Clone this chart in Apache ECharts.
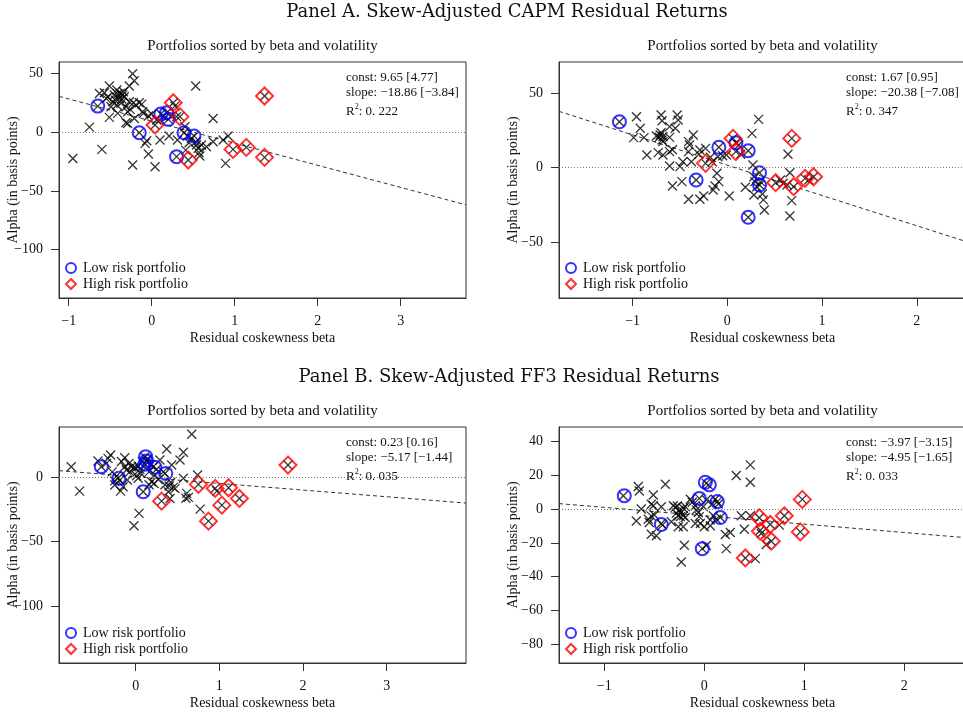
<!DOCTYPE html>
<html>
<head>
<meta charset="utf-8">
<script src="https://cdn.jsdelivr.net/npm/echarts@6/dist/echarts.min.js"></script>
<style>
  html, body { margin: 0; padding: 0; background: #fff; }
  #chart { width: 963px; height: 715px; }
</style>
</head>
<body>
<div id="chart"></div>
<script>
// ---- Panel A (CAPM), left: all portfolios [coskewness beta, alpha in bp]
const capmLeftPoints = [
  [-0.95,-22.2],[-0.75,4.5],[-0.60,-14.5],[-0.65,22.4],[-0.63,33.2],[-0.57,33.8],[-0.55,29.0],[-0.51,12.8],
  [-0.51,39.5],[-0.45,31.8],[-0.42,36.1],[-0.41,32.7],[-0.39,29.0],[-0.42,23.3],[-0.41,16.2],[-0.38,33.2],
  [-0.35,31.8],[-0.34,34.7],[-0.33,30.4],[-0.31,8.2],[-0.29,7.7],[-0.29,17.6],[-0.27,39.5],[-0.27,26.1],
  [-0.26,19.6],[-0.23,50.0],[-0.21,44.0],[-0.22,25.3],[-0.21,11.9],[-0.19,23.3],[-0.15,25.3],[-0.12,24.1],
  [-0.11,17.6],[-0.15,-0.3],[-0.08,-9.4],[-0.06,-7.1],[-0.04,-18.5],[-0.04,13.9],[0.00,15.6],[0.04,6.3],
  [0.06,10.5],[0.10,-6.5],[0.11,15.6],[0.14,13.9],[0.18,16.8],[0.20,11.1],[0.21,-3.1],[0.26,25.3],
  [0.28,22.4],[0.30,13.4],[0.31,-6.5],[0.30,-20.7],[0.34,13.4],[0.40,4.8],[0.39,-0.3],[0.41,-15.1],
  [0.43,-3.1],[0.44,-23.6],[0.45,-8.8],[0.51,-3.1],[0.53,39.5],[0.54,-10.8],[0.56,-13.6],[0.57,-17.3],
  [0.58,-20.2],[0.66,-12.2],[0.74,11.9],[0.74,-8.0],[0.86,-6.5],[0.92,-3.1],[0.89,-26.4],[0.98,-14.5],
  [1.14,-12.8],[1.36,31.0],[1.36,-21.3],[-0.23,-27.8],[0.04,-29.3],[-0.49,21.9],[-0.47,26.1],[-0.37,24.7],
  [-0.31,21.9],[-0.10,16.2],[0.24,13.9],[0.53,-8.0],[0.60,-10.8],[0.48,-5.1],[-0.53,30.0],[-0.44,27.5],
  [-0.36,28.5]
];
const capmLeftLow  = [[-0.65,22.4],[-0.15,-0.3],[0.11,15.6],[0.18,16.8],[0.20,11.1],[0.39,-0.3],[0.51,-3.1],[0.30,-20.7]];
const capmLeftHigh = [[0.26,25.3],[0.34,13.4],[0.04,6.3],[0.44,-23.6],[0.98,-14.5],[1.14,-12.8],[1.36,31.0],[1.36,-21.3]];

// ---- Panel A (CAPM), right
const capmRightPoints = [
  [-1.14,30.9],[-0.96,34.3],[-0.92,26.5],[-0.99,20.2],[-0.88,20.2],[-0.85,8.5],[-0.70,35.4],[-0.69,31.6],
  [-0.71,22.0],[-0.70,23.5],[-0.68,21.0],[-0.72,20.5],[-0.69,18.6],[-0.75,21.3],[-0.68,17.5],[-0.73,10.1],
  [-0.68,8.5],[-0.61,20.4],[-0.61,27.6],[-0.53,35.4],[-0.52,32.1],[-0.55,26.5],[-0.61,10.8],[-0.58,12.0],
  [-0.61,1.1],[-0.58,-12.3],[-0.50,0.7],[-0.48,-9.4],[-0.47,4.0],[-0.41,17.5],[-0.40,15.2],[-0.36,22.0],
  [-0.41,10.8],[-0.38,4.0],[-0.41,-21.3],[-0.33,-8.3],[-0.29,-21.3],[-0.25,-19.1],[-0.29,11.9],[-0.23,13.0],
  [-0.23,2.9],[-0.13,-12.3],[-0.15,-15.0],[-0.09,-9.4],[-0.11,-3.8],[-0.09,13.7],[-0.10,7.4],[-0.01,8.5],
  [0.02,-19.1],[0.06,19.7],[0.09,16.8],[0.09,10.8],[0.12,15.2],[0.19,-13.2],[0.22,11.4],[0.22,-33.4],
  [0.26,23.1],[0.27,1.8],[0.28,-6.1],[0.29,-9.4],[0.33,32.5],[0.34,-3.4],[0.34,-11.7],[0.31,-12.8],
  [0.35,-9.4],[0.28,-18.4],[0.37,-17.7],[0.38,-21.7],[0.39,-28.5],[0.51,-10.1],[0.56,-8.3],[0.59,-10.5],
  [0.64,9.0],[0.66,-3.4],[0.68,19.7],[0.70,-12.8],[0.68,-22.2],[0.66,-32.5],[0.63,-11.7],[0.82,-7.2],
  [0.86,-8.3],[0.91,-6.1],[-0.30,9.0],[-0.16,4.0],[-0.18,7.0],[-0.05,8.0],[0.14,9.0]
];
const capmRightLow  = [[-1.14,30.9],[-0.33,-8.3],[-0.09,13.7],[0.09,16.8],[0.22,11.4],[0.34,-3.4],[0.34,-11.7],[0.22,-33.4]];
const capmRightHigh = [[-0.23,2.9],[0.06,19.7],[0.09,10.8],[0.51,-10.1],[0.68,19.7],[0.70,-12.8],[0.82,-7.2],[0.91,-6.1]];

// ---- Panel B (FF3), left
const ff3LeftPoints = [
  [-0.77,8.0],[-0.67,-10.9],[-0.41,8.0],[-0.45,12.5],[-0.33,14.5],[-0.30,17.1],[-0.35,10.6],[-0.28,4.0],
  [-0.25,-3.0],[-0.13,15.0],[-0.13,8.0],[-0.11,5.5],[-0.21,-1.0],[-0.23,0.5],[-0.19,-2.5],[-0.25,-6.2],
  [-0.18,-10.9],[-0.15,-7.5],[-0.10,-2.3],[-0.05,8.0],[-0.02,7.5],[0.00,7.0],[0.03,8.5],[0.05,6.0],
  [0.08,12.0],[0.11,15.5],[0.13,12.5],[0.12,9.5],[0.14,14.0],[0.21,8.0],[0.35,2.8],[0.09,-11.4],
  [0.03,-1.0],[0.06,3.0],[0.16,4.0],[0.19,-3.6],[0.23,1.6],[0.29,13.2],[0.37,21.8],[0.43,9.3],
  [0.53,13.2],[0.57,19.2],[0.67,33.2],[0.35,-6.0],[0.40,-7.0],[0.45,-8.0],[0.39,-11.4],[0.41,-16.6],
  [0.31,-18.7],[0.57,-1.0],[0.61,-12.7],[0.63,-15.8],[0.60,-16.5],[0.74,1.6],[0.75,-5.7],[0.77,-24.9],
  [0.95,-8.8],[0.97,-10.9],[1.11,-8.3],[1.03,-21.8],[1.24,-16.6],[0.87,-34.2],[1.82,9.3],[0.04,-28.2],
  [-0.02,-37.8],[0.25,6.0],[0.27,-2.0],[0.33,4.0],[0.16,-6.0],[-0.07,4.0],[0.01,1.0],[0.18,9.5],
  [0.22,-5.0],[0.42,-4.0],[0.47,-9.0],[-0.17,12.0],[-0.08,10.5]
];
const ff3LeftLow  = [[-0.41,8.0],[-0.20,-1.0],[0.09,-11.4],[0.12,15.8],[0.13,12.5],[0.11,10.0],[0.23,7.5],[0.36,2.8]];
const ff3LeftHigh = [[0.31,-18.7],[0.75,-5.7],[0.95,-8.8],[1.03,-21.8],[1.11,-8.3],[1.24,-16.6],[0.87,-34.2],[1.82,9.3]];

// ---- Panel B (FF3), right
const ff3RightPoints = [
  [-0.81,7.9],[-0.66,13.3],[-0.65,10.7],[-0.39,14.7],[-0.51,8.3],[-0.53,2.8],[-0.51,2.0],[-0.63,0.0],
  [-0.43,1.4],[-0.53,-4.2],[-0.50,-3.5],[-0.68,-7.1],[-0.43,-8.5],[-0.42,-9.5],[-0.53,-14.9],[-0.48,-15.8],
  [-0.56,-6.0],[-0.55,-8.0],[-0.31,2.0],[-0.29,1.0],[-0.27,1.8],[-0.25,-0.5],[-0.23,-2.0],[-0.21,0.5],
  [-0.19,1.5],[-0.28,-2.5],[-0.26,-4.0],[-0.24,-4.5],[-0.21,-4.0],[-0.19,-5.0],[-0.33,-7.5],[-0.26,-10.5],
  [-0.21,-10.5],[-0.14,5.8],[-0.12,4.0],[-0.09,2.0],[-0.08,-0.5],[-0.06,-2.0],[-0.05,-4.5],[-0.09,-8.5],
  [-0.04,-8.5],[-0.05,6.3],[0.02,15.2],[0.04,14.3],[0.13,4.4],[0.11,5.8],[0.14,3.0],[0.16,-5.0],
  [0.09,-4.0],[0.12,-6.0],[0.06,-6.5],[0.06,-9.9],[0.00,-10.5],[-0.02,-23.4],[0.02,-21.5],[-0.20,-21.4],
  [-0.23,-31.3],[0.21,-15.0],[0.26,-13.9],[0.22,-23.4],[0.32,19.8],[0.46,26.1],[0.46,15.8],[0.37,-4.0],
  [0.46,-4.0],[0.40,-11.9],[0.55,-5.1],[0.56,-12.5],[0.66,-9.1],[0.80,-4.0],[0.67,-19.0],[0.41,-28.9],
  [0.51,-29.3],[0.62,-21.0],[0.75,-9.5],[0.98,5.7],[0.96,-13.5],[0.57,-14.5],[-0.01,1.5],[0.02,5.5],
  [0.08,3.0]
];
const ff3RightLow  = [[-0.80,7.9],[-0.43,-9.1],[-0.05,6.3],[0.01,15.8],[0.05,14.3],[0.13,4.4],[0.16,-5.0],[-0.02,-23.4]];
const ff3RightHigh = [[0.41,-28.9],[0.55,-5.1],[0.56,-13.1],[0.66,-9.1],[0.67,-19.0],[0.80,-4.0],[0.96,-13.5],[0.98,5.7]];

// ---- fitted lines: alpha = const + slope * beta, with t-stats in brackets
const fitConst  = [9.65, 1.67, 0.23, -3.97];
const fitSlope  = [-18.86, -20.38, -5.17, -4.95];
const tConst    = [4.77, 0.95, 0.16, -3.15];
const tSlope    = [-3.84, -7.08, -1.44, -1.65];
const rSquared  = ['0. 222', '0. 347', '0. 035', '0. 033'];

// ---- tick labels
const xTicksCapmLeft  = [-1, 0, 1, 2, 3];
const yTicksCapmLeft  = [-100, -50, 0, 50];
const xTicksCapmRight = [-1, 0, 1, 2];
const yTicksCapmRight = [-50, 0, 50];
const xTicksFf3Left   = [0, 1, 2, 3];
const yTicksFf3Left   = [-100, -50, 0];
const xTicksFf3Right  = [-1, 0, 1, 2];
const yTicksFf3Right  = [-80, -60, -40, -20, 0, 20, 40];

const panelTitles = ['Panel A. Skew-Adjusted CAPM Residual Returns', 'Panel B. Skew-Adjusted FF3 Residual Returns'];
const subTitle = 'Portfolios sorted by beta and volatility';
const xName = 'Residual coskewness beta';
const yName = 'Alpha (in basis points)';
const lowName = 'Low risk portfolio';
const highName = 'High risk portfolio';

// ---- layout and styling
const SERIF = '"Liberation Serif", "Times New Roman", serif';
const MINUS = '\u2212';
const fmt = v => (v < 0 ? MINUS + Math.abs(v) : String(v));
const fmt2 = v => (v < 0 ? MINUS + Math.abs(v).toFixed(2) : v.toFixed(2));

const panels = [
  { pts: capmLeftPoints,  low: capmLeftLow,  high: capmLeftHigh,  xt: xTicksCapmLeft,  yt: yTicksCapmLeft,
    box: { left: 59, top: 62, width: 407, height: 236 }, x: [-1.117, 3.787], y: [-141.2, 60.0] },
  { pts: capmRightPoints, low: capmRightLow, high: capmRightHigh, xt: xTicksCapmRight, yt: yTicksCapmRight,
    box: { left: 559, top: 62, width: 407, height: 236 }, x: [-1.778, 2.520], y: [-87.7, 71.1] },
  { pts: ff3LeftPoints,   low: ff3LeftLow,   high: ff3LeftHigh,   xt: xTicksFf3Left,   yt: yTicksFf3Left,
    box: { left: 59, top: 427, width: 407, height: 236 }, x: [-0.916, 3.947], y: [-144.2, 38.8] },
  { pts: ff3RightPoints,  low: ff3RightLow,  high: ff3RightHigh,  xt: xTicksFf3Right,  yt: yTicksFf3Right,
    box: { left: 559, top: 427, width: 407, height: 236 }, x: [-1.453, 2.617], y: [-91.0, 48.5] }
];

const CROSS = 'path://M0,0L10,10M10,0L0,10';
const txt = (size, extra) => Object.assign({ fontFamily: SERIF, fontWeight: 'normal', fontSize: size, color: '#111' }, extra || {});

const grid = [], xAxis = [], yAxis = [], series = [], legend = [];
const title = [
  { text: panelTitles[0], left: 507, top: 3, padding: 0, textAlign: 'center',
    textStyle: txt(18, { fontFamily: '"DejaVu Serif", serif' }) },
  { text: panelTitles[1], left: 509, top: 368, padding: 0, textAlign: 'center',
    textStyle: txt(18, { fontFamily: '"DejaVu Serif", serif' }) }
];

panels.forEach((p, i) => {
  const b = p.box;
  grid.push({ left: b.left, top: b.top, width: b.width, height: b.height, show: true,
              outerBoundsMode: 'none', containLabel: false,
              borderColor: '#333', borderWidth: 1, backgroundColor: 'transparent' });
  xAxis.push({
    gridIndex: i, type: 'value', min: p.x[0], max: p.x[1],
    axisLine: { show: true, onZero: false, lineStyle: { color: '#333', width: 1 } },
    axisTick: { show: true, inside: false, length: 8, customValues: p.xt, lineStyle: { color: '#333' } },
    axisLabel: { customValues: p.xt, formatter: fmt, margin: 16, fontFamily: SERIF, fontSize: 14, color: '#111' },
    splitLine: { show: false },
    name: xName, nameLocation: 'middle', nameGap: 33, nameMoveOverlap: false,
    nameTextStyle: txt(14)
  });
  yAxis.push({
    gridIndex: i, type: 'value', min: p.y[0], max: p.y[1],
    axisLine: { show: true, onZero: false, lineStyle: { color: '#333', width: 1 } },
    axisTick: { show: true, inside: false, length: 8, customValues: p.yt, lineStyle: { color: '#333' } },
    axisLabel: { customValues: p.yt, formatter: fmt, margin: 16, fontFamily: SERIF, fontSize: 14, color: '#111' },
    splitLine: { show: false },
    name: yName, nameLocation: 'middle', nameGap: 39, nameMoveOverlap: false,
    nameTextStyle: txt(14)
  });

  // subtitle above each box
  title.push({ text: subTitle, left: b.left + b.width / 2, top: b.top - 23, padding: 0, textAlign: 'center',
               textStyle: txt(15) });

  // regression statistics, top-right inside the box
  const tx = b.left + b.width - 120;
  title.push({ text: 'const: ' + fmt2(fitConst[i]) + ' [' + fmt2(tConst[i]) + ']',
               left: tx, top: b.top + 9, padding: 0, textStyle: txt(13) });
  title.push({ text: 'slope: ' + fmt2(fitSlope[i]) + ' [' + fmt2(tSlope[i]) + ']',
               left: tx, top: b.top + 24, padding: 0, textStyle: txt(13) });
  title.push({ text: '{r|R}{s|2}{r|: ' + rSquared[i] + '}', left: tx, top: b.top + 41, padding: 0,
               textStyle: { fontWeight: 'normal', rich: {
                 r: txt(13),
                 s: txt(8, { padding: [0, 0, 9, 0] })
               } } });

  // fitted regression line across the whole box, with dotted zero reference
  const x0 = p.x[0], x1 = p.x[1];
  series.push({
    type: 'line', xAxisIndex: i, yAxisIndex: i, silent: true, symbol: 'none', z: 1,
    data: [[x0, fitConst[i] + fitSlope[i] * x0], [x1, fitConst[i] + fitSlope[i] * x1]],
    lineStyle: { color: '#333', width: 1, type: [4, 3] },
    markLine: { silent: true, symbol: 'none', label: { show: false },
                lineStyle: { color: '#777', width: 1, type: [1, 2] }, data: [{ yAxis: 0 }] }
  });
  series.push({
    type: 'scatter', name: 'portfolios', xAxisIndex: i, yAxisIndex: i, silent: true, z: 2,
    symbol: CROSS, symbolSize: 9, data: p.pts,
    itemStyle: { color: 'rgba(0,0,0,0)', borderColor: '#000', borderWidth: 1.3 }
  });
  series.push({
    type: 'scatter', name: lowName, xAxisIndex: i, yAxisIndex: i, silent: true, z: 3,
    symbol: 'circle', symbolSize: 13, data: p.low,
    itemStyle: { color: 'rgba(0,0,0,0)', borderColor: '#0000ff', borderWidth: 2 }
  });
  series.push({
    type: 'scatter', name: highName, xAxisIndex: i, yAxisIndex: i, silent: true, z: 3,
    symbol: 'diamond', symbolSize: 17, data: p.high,
    itemStyle: { color: 'rgba(0,0,0,0)', borderColor: '#ff0000', borderWidth: 2 }
  });

  legend.push({
    orient: 'vertical', left: b.left + 6, top: b.top + b.height - 37, padding: 0,
    itemWidth: 10, itemHeight: 10, itemGap: 2, selectedMode: false,
    textStyle: txt(14, { padding: [0, 0, 0, 2] }),
    data: [
      { name: lowName, icon: 'circle', itemStyle: { color: 'rgba(0,0,0,0)', borderColor: '#0000ff', borderWidth: 2 } },
      { name: highName, icon: 'diamond', itemStyle: { color: 'rgba(0,0,0,0)', borderColor: '#ff0000', borderWidth: 2 } }
    ]
  });
});

const chart = echarts.init(document.getElementById('chart'), null, { renderer: 'canvas' });
chart.setOption({ animation: false, backgroundColor: '#fff', title, grid, xAxis, yAxis, legend, series });
</script>
</body>
</html>
